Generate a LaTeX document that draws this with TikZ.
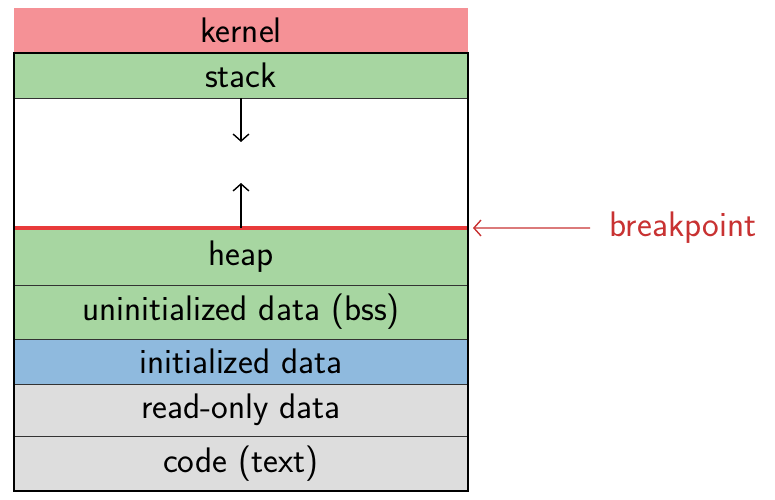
\documentclass[tikz,border=0pt]{standalone}
\usepackage{tikz}
\usetikzlibrary{arrows.meta,positioning}
\definecolor{kernpink}{RGB}{245,145,150}
\definecolor{memgreen}{RGB}{167,214,161}
\definecolor{memblue}{RGB}{143,186,222}
\definecolor{memgray}{RGB}{221,221,221}
\definecolor{brkred}{RGB}{232,58,58}
\definecolor{brktext}{RGB}{200,50,50}

\begin{document}
\begin{tikzpicture}[>={Straight Barb[length=4pt,width=9pt]},every node/.style={font=\sffamily\fontsize{20.2}{22}\selectfont},
  seg/.style={minimum width=9.08cm,inner sep=0pt,outer sep=0pt,draw=black!80,thin}]
  \useasboundingbox (0,0) rectangle (15.5,9.98);
  % memory segments, top to bottom
  \node[seg,draw=none,fill=kernpink,minimum height=0.9cm,anchor=north west] (kernel) at (0.28,9.82) {kernel};
  \node[seg,fill=memgreen,minimum height=0.9cm,below=0pt of kernel] (stack) {stack};
  \node[seg,minimum height=2.6cm,below=0pt of stack] (gap) {};
  \node[seg,fill=memgreen,minimum height=1.14cm,below=0pt of gap] (heap) {heap};
  \node[seg,fill=memgreen,minimum height=1.08cm,below=0pt of heap] (bss) {uninitialized data (bss)};
  \node[seg,fill=memblue,minimum height=0.9cm,below=0pt of bss] (data) {initialized data};
  \node[seg,fill=memgray,minimum height=1.04cm,below=0pt of data] (rodata) {read-only data};
  \node[seg,fill=memgray,minimum height=1.1cm,below=0pt of rodata] (code) {code (text)};
  \draw[brkred,line width=2.2pt] (gap.south west) -- (gap.south east);
  \draw[line width=1.1pt] (stack.north west) rectangle (code.south east);
  % growth arrows
  \coordinate[below=0.88cm of stack.south] (stkend);
  \coordinate[above=0.9cm of heap.north] (heapend);
  \draw[->,thick] (stack.south) -- (stkend);
  \draw[->,thick] (heap.north) -- (heapend);
  % breakpoint
  \node[text=brktext,anchor=west,inner sep=3pt] (bp) at (12.08,5.42) {breakpoint};
  \draw[->,brktext,thick,shorten <=0.28cm,shorten >=0.1cm] (bp.west) -- (gap.south east);
\end{tikzpicture}
\end{document}
